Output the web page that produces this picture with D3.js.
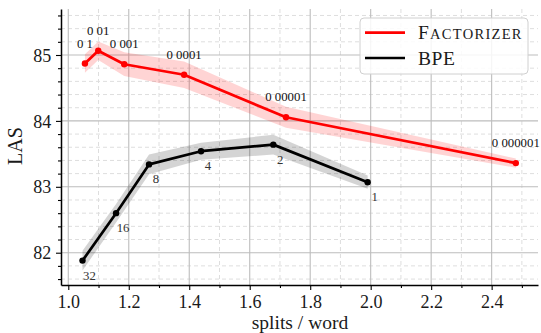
<!DOCTYPE html>
<html><head><meta charset="utf-8">
<script src="https://cdn.jsdelivr.net/npm/d3@7"></script>
<style>body{margin:0;background:#fff}svg{display:block}</style>
</head><body>
<svg id="c" width="541" height="333"></svg>
<script>
const factorizerLabels = ["0 1","0 01","0 001","0 0001","0 00001","0 000001"];
const factorizerX = [1.055,1.099,1.185,1.383,1.72,2.48];
const factorizerY = [84.87,85.065,84.86,84.70,84.055,83.36];
const factorizerErr = [0.14,0.14,0.18,0.20,0.16,0.07];

const bpeLabels = ["32","16","8","4","2","1"];
const bpeX = [1.047,1.158,1.267,1.439,1.678,1.99];
const bpeY = [81.88,82.6,83.34,83.54,83.64,83.07];
const bpeErr = [0.15,0.14,0.15,0.13,0.15,0.10];

const xTicks = [1.0,1.2,1.4,1.6,1.8,2.0,2.2,2.4];
const xMinor = [1.1,1.3,1.5,1.7,1.9,2.1,2.3,2.5];
const yTicks = [82,83,84,85];
const yMinor = [81.6,81.8,82.2,82.4,82.6,82.8,83.2,83.4,83.6,83.8,84.2,84.4,84.6,84.8,85.2,85.4,85.6];

const legendNames = ["Factorizer","BPE"];
const colors = ["#ff0000","#000000"];
const bandColors = ["rgba(255,0,0,0.17)","rgba(0,0,0,0.17)"];

const L=61,R=538,T=9,B=285;
const serif = "Liberation Serif, Times New Roman, serif";
const x = d3.scaleLinear().domain([0.9759,2.5533]).range([L,R]);
const y = d3.scaleLinear().domain([81.51,85.698]).range([B,T]);
const svg = d3.select("#c");

// minor grid
svg.append("g").selectAll("line").data(xMinor).join("line")
  .attr("x1",d=>x(d)).attr("x2",d=>x(d)).attr("y1",T).attr("y2",B)
  .attr("stroke","#dedede").attr("stroke-width",1).attr("stroke-dasharray","4,3");
svg.append("g").selectAll("line").data(yMinor).join("line")
  .attr("x1",L).attr("x2",R).attr("y1",d=>y(d)).attr("y2",d=>y(d))
  .attr("stroke","#dedede").attr("stroke-width",1).attr("stroke-dasharray","4,3");
// major grid
svg.append("g").selectAll("line").data(xTicks).join("line")
  .attr("x1",d=>x(d)).attr("x2",d=>x(d)).attr("y1",T).attr("y2",B)
  .attr("stroke","#bdbdbd").attr("stroke-width",1.1);
svg.append("g").selectAll("line").data(yTicks).join("line")
  .attr("x1",L).attr("x2",R).attr("y1",d=>y(d)).attr("y2",d=>y(d))
  .attr("stroke","#bdbdbd").attr("stroke-width",1.1);

const series = [
  {xs:factorizerX, ys:factorizerY, err:factorizerErr, labels:factorizerLabels},
  {xs:bpeX, ys:bpeY, err:bpeErr, labels:bpeLabels}
];
series.forEach((s,i)=>{
  const pts = s.xs.map((v,j)=>({x:v,y:s.ys[j],e:s.err[j],l:s.labels[j]}));
  const area = d3.area().x(d=>x(d.x)).y0(d=>y(d.y-d.e)).y1(d=>y(d.y+d.e));
  svg.append("path").datum(pts).attr("d",area).attr("fill",bandColors[i]);
  svg.append("path").datum(pts).attr("d",d3.line().x(d=>x(d.x)).y(d=>y(d.y)))
    .attr("fill","none").attr("stroke",colors[i]).attr("stroke-width",2.7).attr("stroke-linejoin","round");
  svg.append("g").selectAll("circle").data(pts).join("circle")
    .attr("cx",d=>x(d.x)).attr("cy",d=>y(d.y)).attr("r",3.2).attr("fill",colors[i]);
  svg.append("g").selectAll("text").data(pts).join("text")
    .attr("x",d=>x(d.x)+(i===0?0:7)).attr("y",d=>y(d.y)+(i===0?-16:19))
    .attr("text-anchor","middle").attr("font-family",serif).attr("font-size",12.8)
    .attr("fill",i===0?"#111":"#333").text(d=>d.l);
});

// axes
const xAxis = svg.append("g").attr("transform",`translate(0,${B})`)
  .call(d3.axisBottom(x).tickValues(xTicks).tickFormat(d3.format(".1f")).tickSize(5).tickSizeOuter(0));
svg.append("g").attr("transform",`translate(0,${B})`)
  .call(d3.axisBottom(x).tickValues(xMinor).tickFormat("").tickSize(3).tickSizeOuter(0))
  .select(".domain").remove();
const yAxis = svg.append("g").attr("transform",`translate(${L},0)`)
  .call(d3.axisLeft(y).tickValues(yTicks).tickFormat(d3.format("d")).tickSize(5).tickSizeOuter(0));
svg.append("g").attr("transform",`translate(${L},0)`)
  .call(d3.axisLeft(y).tickValues(yMinor).tickFormat("").tickSize(3).tickSizeOuter(0))
  .select(".domain").remove();
svg.selectAll(".domain").attr("stroke","#000").attr("stroke-width",1.5);
svg.selectAll(".tick line").attr("stroke","#000").attr("stroke-width",1.1);
xAxis.selectAll("text").attr("font-family",serif).attr("font-size",18).attr("fill","#1a1a1a").attr("dy","0.85em");
yAxis.selectAll("text").attr("font-family",serif).attr("font-size",18).attr("fill","#1a1a1a").attr("dx","-0.1em").attr("dy","0.34em");

svg.append("text").attr("x",(L+R)/2+0.5).attr("y",329).attr("text-anchor","middle")
  .attr("font-family",serif).attr("font-size",19.5).attr("fill","#1a1a1a").text("splits / word");
svg.append("text").attr("transform",`translate(22,${(T+B)/2 - 1}) rotate(-90)`).attr("text-anchor","middle")
  .attr("font-family",serif).attr("font-size",20).attr("fill","#1a1a1a").text("LAS");

// legend
const lg = svg.append("g");
lg.append("rect").attr("x",360).attr("y",18).attr("width",168).attr("height",56).attr("rx",4)
  .attr("fill","rgba(255,255,255,0.85)").attr("stroke","#d0d0d0").attr("stroke-width",1);
legendNames.forEach((n,i)=>{
  const yy = 32.7 + i*25.3;
  lg.append("line").attr("x1",365).attr("x2",405).attr("y1",yy).attr("y2",yy)
    .attr("stroke",colors[i]).attr("stroke-width",2.7);
  const t = lg.append("text").attr("x",418).attr("y",yy+6.5).attr("font-family",serif)
    .attr("font-size",19.5).attr("fill","#1a1a1a");
  if (i===0) {
    t.append("tspan").text(n.charAt(0).toUpperCase()).attr("letter-spacing","1.2px");
    t.append("tspan").attr("font-size",14.5).attr("letter-spacing","1.3px").text(n.slice(1).toUpperCase());
  } else {
    t.attr("letter-spacing","0.6px").text(n);
  }
});
</script>
</body></html>
